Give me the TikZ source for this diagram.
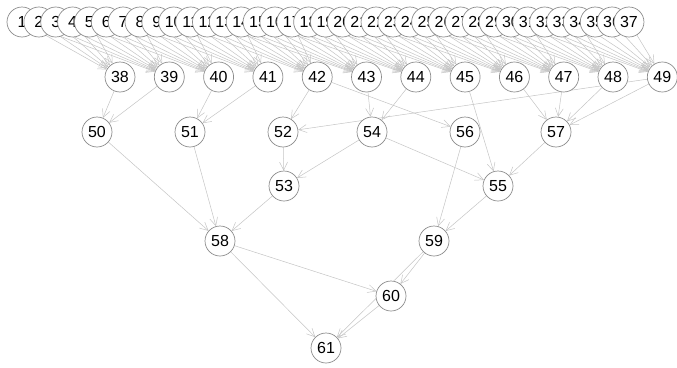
\documentclass[tikz,border=0pt]{standalone}
\usepackage{fontspec}
\setmainfont{Liberation Sans}
\usepackage{tikz}
\usetikzlibrary{arrows.meta,backgrounds}
\definecolor{edgegray}{HTML}{C4C4C4}
\definecolor{rimgray}{HTML}{8C8C8C}

\begin{document}
\begin{tikzpicture}[x=1pt,y=-1pt,>={Straight Barb[length=8pt,width=8pt]},
  vtx/.style={circle,draw=rimgray,line width=0.7pt,fill=white,minimum size=30pt,
    inner sep=0pt,font=\fontsize{16}{16}\selectfont},
  edge/.style={->,draw=edgegray,line width=0.5pt}]
  \useasboundingbox (0,0) rectangle (677,367);
  % top row: 37 overlapping leaves
  \foreach \i in {1,...,37}
    \node[vtx] (v\i) at ({22+16.86*(\i-1)},22) {\i};
  % second row
  \foreach \i in {38,...,49}
    \node[vtx] (v\i) at ({120+49.3*(\i-38)},77) {\i};
  % lower rows
  \foreach \i/\x/\y in {50/97/132,51/190/132,52/283/132,54/372/132,56/465/132,57/556/132,
      53/284/186,55/498/186,58/220/241,59/434/241,60/391/296,61/326/348}
    \node[vtx] (v\i) at (\x,\y) {\i};
  \begin{scope}[on background layer]
    % leaves to second row
    \foreach \i in {1,...,37}
      \foreach \k in {38,...,49} {
        \pgfmathsetmacro\gap{120+49.3*(\k-38)-22-16.86*(\i-1)}
        \ifdim\gap pt>25pt \ifdim\gap pt<160pt
          \draw[edge] (v\i) -- (v\k);
        \fi\fi
      }
    % inner edges
    \foreach \a/\b in {38/50,39/50,40/51,41/51,42/52,49/52,42/56,43/54,44/54,45/55,
        46/57,47/57,48/57,49/57,52/53,54/53,54/55,57/55,56/59,55/59,
        50/58,51/58,53/58,58/60,59/60,58/61,60/61,59/61}
      \draw[edge] (v\a) -- (v\b);
  \end{scope}
\end{tikzpicture}
\end{document}
